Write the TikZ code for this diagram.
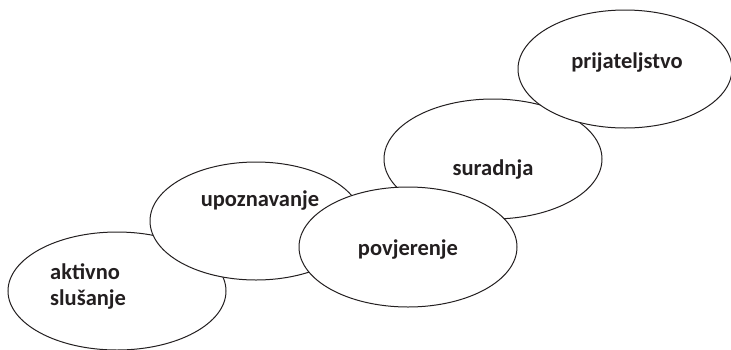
\documentclass[tikz,border=0pt]{standalone}
\usepackage{fontspec}
\setmainfont{Carlito}
\usetikzlibrary{shapes.geometric}
\definecolor{inkgray}{HTML}{231F20}

\tikzset{
  bubble/.style={ellipse, draw=inkgray, line width=1pt, fill=white,
    inner sep=0pt, minimum width=218pt, minimum height=118pt},
  word/.style={font=\fontsize{22.5}{26}\selectfont\bfseries, text=inkgray, inner sep=0pt}
}

\begin{document}
\begin{tikzpicture}[x=1pt, y=-1pt]
  \useasboundingbox (0,0) rectangle (731,349);

  % ellipses, back to front
  \node[bubble] (aktivno) at (117,291) {};
  \node[bubble, minimum width=212pt] (upoznavanje) at (256,221) {};
  \node[bubble, minimum height=120pt] (suradnja) at (493,159) {};
  \node[bubble, minimum height=120pt] (povjerenje) at (408,247) {};
  \node[bubble, minimum width=214pt] (prijateljstvo) at (625,69) {};

  % labels
  \node[word, align=left, anchor=west] (aktivnotext) at (50,286) {aktivno\\slušanje};
  \node[word] (upoznavanjetext) at (260,201) {upoznavanje};
  \node[word] (povjerenjetext) at (408,249) {povjerenje};
  \node[word] (suradnjatext) at (493,170) {suradnja};
  \node[word] (prijateljstvotext) at (627,63) {prijateljstvo};
\end{tikzpicture}
\end{document}
